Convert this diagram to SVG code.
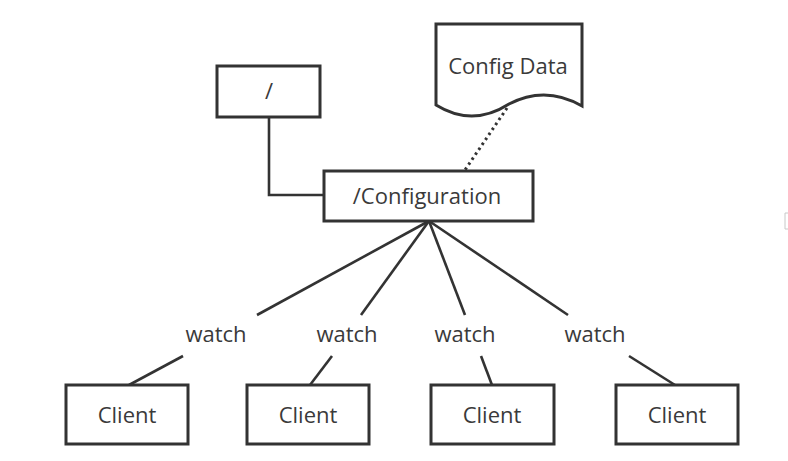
<svg xmlns="http://www.w3.org/2000/svg" width="788" height="461" viewBox="0 0 788 461">
<style>
.box{fill:#fff;stroke:#333;stroke-width:3}
.ln{fill:none;stroke:#333;stroke-width:2.6;stroke-linecap:butt}
.dot{fill:none;stroke:#333;stroke-width:3;stroke-dasharray:2.5 3.5}
text{font-family:"Open Sans","Noto Sans",sans-serif;font-size:22px;fill:#3a3a3a;text-anchor:middle}
</style>
<rect width="788" height="461" fill="#fff"/>
<g id="connectors">
<polyline class="ln" points="269,117 269,195 324,195"/>
<line class="dot" x1="507" y1="108" x2="465" y2="170"/>
<line class="ln" x1="429" y1="221" x2="257" y2="315"/>
<line class="ln" x1="183" y1="356" x2="129" y2="385"/>
<line class="ln" x1="429" y1="221" x2="361" y2="315"/>
<line class="ln" x1="332" y1="356" x2="310" y2="385"/>
<line class="ln" x1="429" y1="221" x2="465" y2="315"/>
<line class="ln" x1="481" y1="356" x2="492" y2="385"/>
<line class="ln" x1="429" y1="221" x2="568" y2="315"/>
<line class="ln" x1="629" y1="356" x2="675" y2="385"/>
<text x="216" y="342">watch</text>
<text x="347" y="342">watch</text>
<text x="465" y="342">watch</text>
<text x="595" y="342">watch</text>
</g>
<g id="root">
<rect class="box" x="217" y="66" width="103" height="51"/>
<text x="269" y="99">/</text>
</g>
<g id="configdata">
<path class="box" d="M436,24 H582 V106 Q545.5,85 509,104 Q472.5,127.5 436,105 Z"/>
<text x="508" y="74">Config Data</text>
</g>
<g id="configuration">
<rect class="box" x="324" y="171" width="209" height="50"/>
<text x="427" y="204">/Configuration</text>
</g>
<g id="client1">
<rect class="box" x="66" y="385" width="122" height="59"/>
<text x="127" y="423">Client</text>
</g>
<g id="client2">
<rect class="box" x="247" y="385" width="122" height="59"/>
<text x="308" y="423">Client</text>
</g>
<g id="client3">
<rect class="box" x="431" y="385" width="123" height="59"/>
<text x="492" y="423">Client</text>
</g>
<g id="client4">
<rect class="box" x="616" y="385" width="122" height="59"/>
<text x="677" y="423">Client</text>
</g>
<path d="M788,213 H785 V229 H788" fill="none" stroke="#c8c8c8" stroke-width="1"/>
</svg>
